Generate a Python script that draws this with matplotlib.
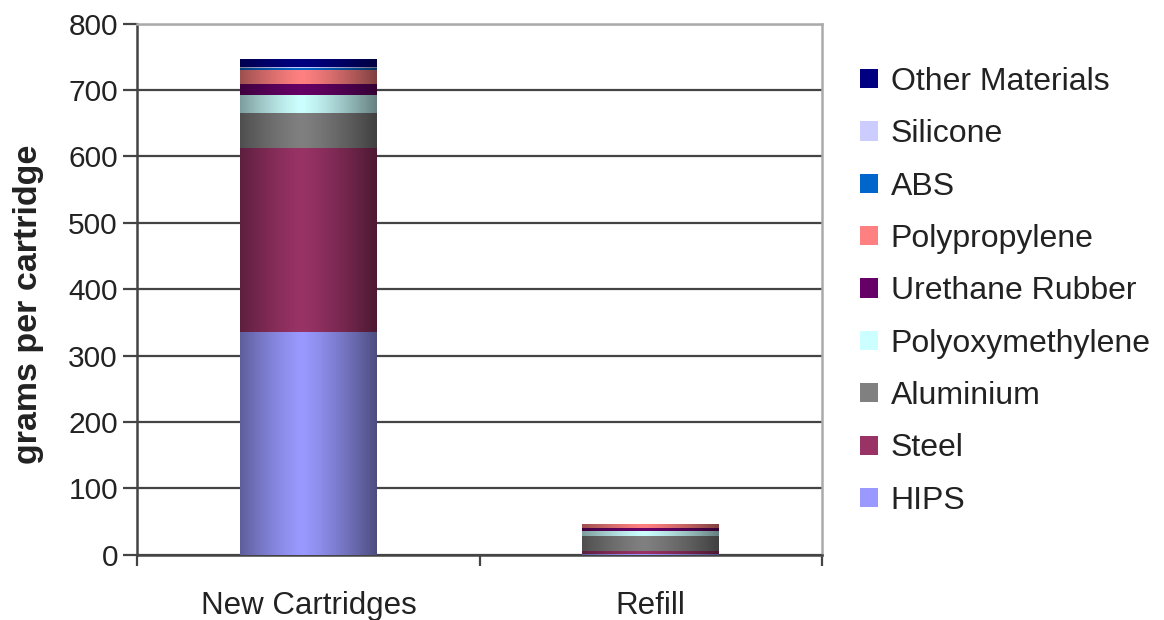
import numpy as np
import matplotlib
matplotlib.use("Agg")
import matplotlib.pyplot as plt
from matplotlib.colors import to_rgb
from matplotlib.patches import Patch

plt.rcParams['font.family'] = ['Liberation Sans', 'DejaVu Sans']

categories = ['New Cartridges', 'Refill']
materials = ['HIPS', 'Steel', 'Aluminium', 'Polyoxymethylene', 'Urethane Rubber',
             'Polypropylene', 'ABS', 'Silicone', 'Other Materials']
new_cart = [335, 278, 52, 27, 17, 21, 3, 2, 11]
refill = [1, 5, 23, 7, 5, 5, 0, 0, 0]
colors = ['#9999FF', '#993366', '#808080', '#CCFFFF', '#660066',
          '#FF8080', '#0066CC', '#CCCCFF', '#000080']

fig = plt.figure(figsize=(11.64, 6.2), dpi=100)
ax = fig.add_axes([0.118, 0.105, 0.588, 0.857])

x = np.arange(len(categories))
values = np.array([new_cart, refill]).T
bottom = np.zeros(len(categories))
handles = []
# horizontal shading across each bar: dark edges, light centre
t = np.linspace(0, 1, 200)
shade = 1 - 0.5 * (np.abs(t - 0.45) / 0.55) ** 1.3
for mat, vals, col in zip(materials, values, colors):
    bars = ax.bar(x, vals, 0.4, bottom=bottom, color=col, zorder=3, linewidth=0)
    rgb = np.array(to_rgb(col))
    img = (shade[:, None] * rgb[None, :])[None, :, :]
    for p in bars:
        if p.get_height() <= 0:
            continue
        ax.imshow(img, extent=[p.get_x(), p.get_x() + p.get_width(),
                               p.get_y(), p.get_y() + p.get_height()],
                  aspect='auto', zorder=4, interpolation='bilinear')
    bottom += vals
    handles.append(Patch(facecolor=col, edgecolor='none', label=mat))

ax.set_xlim(-0.5, 1.5)
ax.set_ylim(0, 800)
ax.set_yticks(np.arange(0, 801, 100))
ax.yaxis.grid(True, color='#444444', linewidth=1.6, zorder=1)
ax.set_axisbelow(True)

ax.set_xticks(x)
ax.set_xticklabels(categories, fontsize=22.5, color='#222222')
ax.tick_params(axis='x', length=0, pad=26)
ax.set_xticks([-0.5, 0.5, 1.5], minor=True)
ax.tick_params(axis='x', which='minor', length=8, width=1.6, color='#444444', direction='out')
ax.tick_params(axis='y', labelsize=21.5, length=10, width=1.6, color='#444444',
               labelcolor='#222222', pad=4)

for s in ['left', 'bottom']:
    ax.spines[s].set_color('#444444')
    ax.spines[s].set_linewidth(1.8)
for s in ['top', 'right']:
    ax.spines[s].set_color('#aaaaaa')
    ax.spines[s].set_linewidth(1.8)

ax.set_ylabel('grams per cartridge', fontsize=24.5, fontweight='bold', color='#222222')
ax.yaxis.set_label_coords(-0.137, 0.471)

fig.legend(handles=handles[::-1], loc='upper left', bbox_to_anchor=(0.739, 0.892),
           frameon=False, fontsize=23, handlelength=0.55, handleheight=0.55,
           handletextpad=0.4, labelspacing=0.7, borderpad=0, borderaxespad=0,
           labelcolor='#222222')

fig.savefig('out.png', dpi=100)
